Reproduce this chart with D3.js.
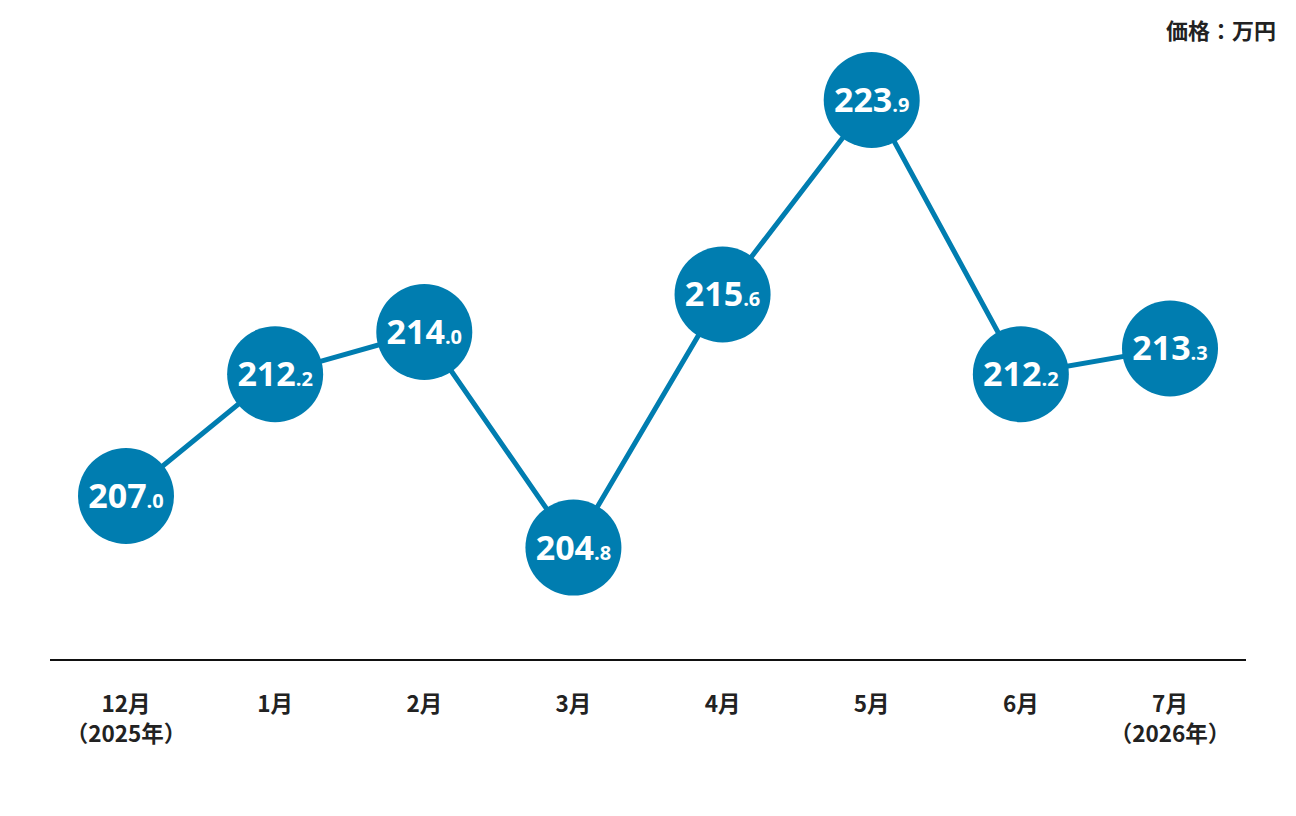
<!DOCTYPE html>
<html>
<head>
<meta charset="utf-8">
<script src="https://cdn.jsdelivr.net/npm/d3@7"></script>
<style>
  body { margin: 0; background: #fff; }
  svg { display: block; }
</style>
</head>
<body>
<script>
// data
const months = ["12月", "1月", "2月", "3月", "4月", "5月", "6月", "7月"];
const subLabels = ["（2025年）", "", "", "", "", "", "", "（2026年）"];
const prices = [207.0, 212.2, 214.0, 204.8, 215.6, 223.9, 212.2, 213.3];
const unitLabel = "価格：万円";

const W = 1296, H = 816;
const blue = "#007db0";

const svg = d3.select(document.body).append("svg")
    .attr("width", W)
    .attr("height", H);

const x = d3.scalePoint()
    .domain(months)
    .range([126, 1170]);

const y = d3.scaleLinear()
    .domain([200, 225])
    .range([660, 74.25]);

// baseline
svg.append("line")
    .attr("x1", 50).attr("x2", 1246)
    .attr("y1", y(200)).attr("y2", y(200))
    .attr("stroke", "#111")
    .attr("stroke-width", 2);

// month labels
const xl = svg.append("g")
    .selectAll("text")
    .data(months)
    .enter()
    .append("text")
    .attr("x", d => x(d))
    .attr("y", 712)
    .attr("text-anchor", "middle")
    .style("font-family", "'Noto Sans CJK JP', 'Noto Sans', sans-serif")
    .style("font-weight", 700)
    .style("font-size", "22.5px")
    .attr("fill", "#222");
xl.append("tspan").text(d => d);
xl.append("tspan")
    .attr("x", d => x(d))
    .attr("dy", 30)
    .text((d, i) => subLabels[i]);

// line
const line = d3.line()
    .x((d, i) => x(months[i]))
    .y(d => y(d));

svg.append("path")
    .datum(prices)
    .attr("d", line)
    .attr("fill", "none")
    .attr("stroke", blue)
    .attr("stroke-width", 5);

// bubbles
const pts = svg.append("g")
    .selectAll("g")
    .data(prices)
    .enter()
    .append("g")
    .attr("transform", (d, i) => `translate(${x(months[i])},${y(d)})`);

pts.append("circle")
    .attr("r", 48)
    .attr("fill", blue);

const lab = pts.append("text")
    .attr("text-anchor", "middle")
    .attr("y", 12)
    .attr("fill", "#fff")
    .style("font-family", "'Open Sans', sans-serif")
    .style("font-weight", 700);
lab.append("tspan")
    .style("font-size", "34px")
    .text(d => Math.floor(d));
lab.append("tspan")
    .style("font-size", "20px")
    .text(d => "." + d.toFixed(1).split(".")[1]);

// unit
svg.append("text")
    .attr("x", 1276)
    .attr("y", 39)
    .attr("text-anchor", "end")
    .style("font-family", "'Noto Sans CJK JP', sans-serif")
    .style("font-weight", 700)
    .style("font-size", "22px")
    .attr("fill", "#222")
    .text(unitLabel);
</script>
</body>
</html>
